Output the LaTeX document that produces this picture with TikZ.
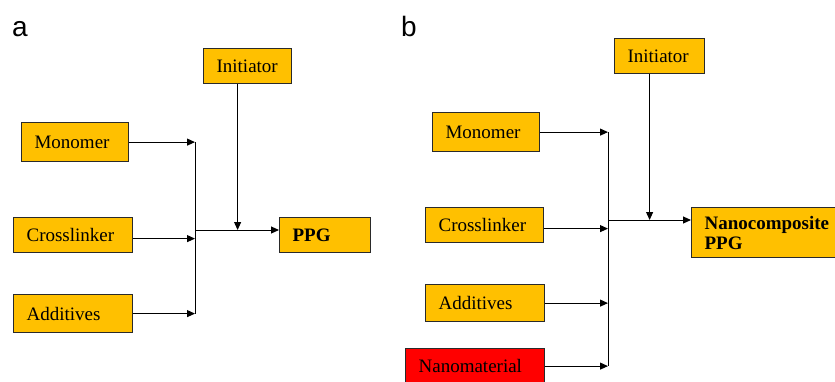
\documentclass[tikz,border=0pt]{standalone}
\usepackage{fontspec}
\setmainfont{Liberation Serif}
\newfontfamily\labfont{Liberation Sans}
\usetikzlibrary{arrows.meta}
\definecolor{boxgold}{HTML}{FFC000}
\definecolor{boxred}{HTML}{FF0000}
\definecolor{edgegray}{HTML}{2A2A2A}
\begin{document}
\begin{tikzpicture}[x=1pt,y=-1pt,
  box/.style={draw=edgegray, line width=1.2pt, fill=boxgold, rectangle, anchor=north west,
    inner xsep=13pt, inner ysep=0pt, align=left, font=\fontsize{19}{20}\selectfont},
  arr/.style={-{Triangle[length=8pt,width=7pt]}, line width=1pt},
  busline/.style={line width=1pt},
  panel/.style={font=\labfont\fontsize{28}{28}\selectfont, anchor=base west, inner sep=0pt}]
\useasboundingbox (0,0) rectangle (835,381);
\clip (0,0) rectangle (835,381);
\fill[white] (0,0) rectangle (835,381);

% ---------- panel a ----------
\node[panel] (laba) at (12,36.7) {a};
\node[box, minimum height=35pt, text width=62pt] (inita) at (203,48) {Initiator};
\node[box, minimum height=39pt, text width=81pt] (monoa) at (21,122) {Monomer};
\node[box, minimum height=35pt, text width=93pt] (crossa) at (13,217) {Crosslinker};
\node[box, minimum height=38pt, text width=93pt] (adda) at (13,294) {Additives};
\node[box, minimum height=35pt, text width=65pt, font=\fontsize{19}{20}\selectfont\bfseries] (ppga) at (279,217) {PPG};

\coordinate (ja) at (195,230);
\coordinate (crossaout) at ([yshift=-3.5pt]crossa.east);
\coordinate (initaout) at ([xshift=-10pt]inita.south);
\draw[busline] (ja |- monoa.east) -- (ja |- adda.east);
\draw[arr] (monoa.east) -- (ja |- monoa.east);
\draw[arr] (crossaout) -- (ja |- crossaout);
\draw[arr] (adda.east) -- (ja |- adda.east);
\draw[arr] (ja) -- (ppga.west |- ja);
\draw[arr] (initaout) -- (initaout |- ja);

% ---------- panel b ----------
\node[panel] (labb) at (401,36.7) {b};
\node[box, minimum height=35pt, text width=64pt] (initb) at (614,38) {Initiator};
\node[box, minimum height=39pt, text width=81pt] (monob) at (432,112) {Monomer};
\node[box, minimum height=35pt, text width=92pt] (crossb) at (425,207) {Crosslinker};
\node[box, minimum height=37pt, text width=93pt] (addb) at (425,284) {Additives};
\node[box, fill=boxred, minimum height=35pt, text width=113pt] (nanob) at (405,348) {Nanomaterial};
\node[box, minimum height=50pt, text width=134pt, font=\fontsize{19}{20}\selectfont\bfseries] (ppgb) at (691,207) {Nanocomposite\\PPG};

\coordinate (jb) at (608,220);
\coordinate (crossbout) at ([yshift=-3.5pt]crossb.east);
\coordinate (initbout) at ([xshift=-10pt]initb.south);
\draw[busline] (jb |- monob.east) -- (jb |- nanob.east);
\draw[arr] (monob.east) -- (jb |- monob.east);
\draw[arr] (crossbout) -- (jb |- crossbout);
\draw[arr] (addb.east) -- (jb |- addb.east);
\draw[arr] (nanob.east) -- (jb |- nanob.east);
\draw[arr] (jb) -- (ppgb.west |- jb);
\draw[arr] (initbout) -- (initbout |- jb);
\end{tikzpicture}
\end{document}
